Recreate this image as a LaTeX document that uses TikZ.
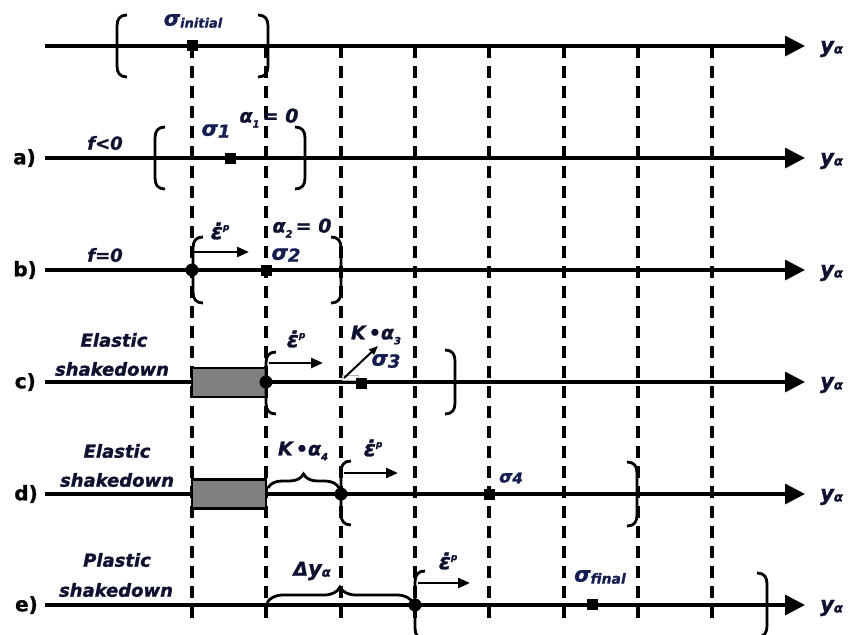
\documentclass[tikz,border=0pt]{standalone}
\usepackage{fontspec}
\setmainfont{DejaVu Sans}[BoldItalicFeatures={FakeBold=1.2},BoldFeatures={FakeBold=1.0}]
\usetikzlibrary{arrows.meta,decorations.pathreplacing}
\definecolor{lblc}{RGB}{14,18,48}
\definecolor{sigc}{RGB}{20,30,80}
\definecolor{boxgray}{RGB}{128,128,128}
\newcommand\labfont{\fontsize{18}{20}\selectfont\bfseries\itshape}
\newcommand\lowsub[1]{{\fontsize{10}{10}\selectfont\raisebox{-5pt}{#1}}}
\newcommand\epdot{{\fontsize{22}{22}\selectfont ε̇}\raisebox{9pt}{\fontsize{9}{9}\selectfont p}}
\newcommand\ya{{\fontsize{21}{21}\selectfont y}{\fontsize{13}{13}\selectfont\raisebox{-1pt}{α}}}
\newcommand\sig{{\fontsize{21}{21}\selectfont σ}}
\newcommand\lbrk[3]{\draw[crv] ({#1+10},{#2-#3}) .. controls ({#1+3},{#2-#3}) and (#1,{#2-#3+4}) .. (#1,{#2-#3+11}) -- (#1,{#2+#3-11}) .. controls (#1,{#2+#3-4}) and ({#1+3},{#2+#3}) .. ({#1+10},{#2+#3});}
\newcommand\rbrk[3]{\draw[crv] ({#1-10},{#2-#3}) .. controls ({#1-3},{#2-#3}) and (#1,{#2-#3+4}) .. (#1,{#2-#3+11}) -- (#1,{#2+#3-11}) .. controls (#1,{#2+#3-4}) and ({#1-3},{#2+#3}) .. ({#1-10},{#2+#3});}
\begin{document}
\begin{tikzpicture}[x=1pt,y=-1pt,
  yaxis/.style={line width=3.4pt,-{Triangle[length=20pt,width=20pt]}},
  guide/.style={line width=3.2pt,dash pattern=on 12pt off 8pt},
  lbl/.style={text=lblc,font=\labfont,inner sep=0pt},
  slbl/.style={lbl,text=sigc},
  rowtag/.style={text=black!90!lblc,font=\fontsize{20}{22}\selectfont\bfseries,inner sep=0pt,anchor=east},
  sq/.style={fill=black,minimum size=11pt,inner sep=0pt},
  fdot/.style={circle,fill=black,minimum size=13pt,inner sep=0pt},
  rate/.style={line width=2.6pt,-{Triangle[length=12pt,width=10pt]}},
  hold/.style={draw,line width=2.6pt,fill=boxgray},
  crv/.style={line width=2.8pt},
  brc/.style={line width=2.8pt,decorate,decoration={brace,amplitude=#1}}
]
\useasboundingbox (0,0) rectangle (848,634);
% dashed guides
\foreach \x/\n in {192/g1,266/g2,341/g3,415/g4,489/g5,564/g6,638/g7,712/g8}{
  \coordinate (\n t) at (\x,46);
  \coordinate (\n b) at (\x,622);
  \draw[guide] (\n t) -- (\n b);
}
% axes
\foreach \y/\n in {46/r0,158/ra,270/rb,382/rc,494/rd,605/re}{
  \coordinate (\n s) at (45,\y);
  \coordinate (\n e) at (805,\y);
  \draw[yaxis] (\n s) -- (\n e);
  \node[lbl,anchor=west] (\n y) at (820,{\y+3}) {\ya};
}
% row tags
\node[rowtag] (ta) at (36,158) {a)};
\node[rowtag] (tb) at (37,270) {b)};
\node[rowtag] (tc) at (36,382) {c)};
\node[rowtag] (td) at (38,494) {d)};
\node[rowtag] (te) at (38,605) {e)};
% initial
\lbrk{117}{46}{31}
\rbrk{268}{46}{31}
\node[sq] (s0) at (192,46) {};
\node[slbl] (s0l) at (193,21) {\sig{\fontsize{13}{13}\selectfont\raisebox{-2pt}{initial}}};
% a)
\node[lbl] (fa) at (105,143) {f<0};
\lbrk{155}{158}{31}
\rbrk{305}{158}{31}
\node[sq] (s1) at (230,158) {};
\node[slbl] (s1l) at (216,131) {\sig\raisebox{-2pt}{1}};
\node[lbl,font=\fontsize{19}{20}\selectfont\bfseries\itshape] (a1l) at (269,118) {α\lowsub{1}\,= 0};
% b)
\node[lbl] (fb) at (105,255) {f=0};
\lbrk{193}{270}{33}
\rbrk{341}{270}{33}
\node[fdot] (db) at (192,270) {};
\coordinate (eb0) at (194,252);
\coordinate (eb1) at (249,252);
\draw[rate] (eb0) -- (eb1);
\node[lbl] (ebl) at (220,231) {\epdot};
\node[sq] (s2) at (266,270) {};
\node[slbl] (s2l) at (286,255) {\sig\raisebox{-2pt}{2}};
\node[lbl,font=\fontsize{19}{20}\selectfont\bfseries\itshape] (a2l) at (302,228) {α\lowsub{2}\,= 0};
% c)
\node[lbl] (ec1) at (114,340) {Elastic};
\node[lbl] (ec2) at (112,369) {shakedown};
\node[hold,minimum width=74pt,minimum height=29pt,inner sep=0pt] (hc) at (229,382.5) {};
\lbrk{266}{383}{31}
\rbrk{455}{382}{32}
\node[fdot] (dc) at (266,382) {};
\coordinate (ec0) at (269,363);
\coordinate (ec1a) at (323,363);
\draw[rate] (ec0) -- (ec1a);
\node[lbl] (ecl) at (296,339) {\epdot};
\draw[gray!60,line width=1pt] (342,375) rectangle (358,380);
\coordinate (kc0) at (344,378);
\coordinate (kc1) at (378,346);
\draw[line width=2pt,-{Triangle[length=9pt,width=7pt]}] (kc0) -- (kc1);
\node[sq] (s3) at (361,383) {};
\node[lbl,font=\fontsize{19}{20}\selectfont\bfseries\itshape] (kcl) at (376,335) {K\,•α\lowsub{3}};
\node[slbl] (s3l) at (386,361) {\sig\raisebox{-2pt}{3}};
% d)
\node[lbl] (ed1) at (117,451) {Elastic};
\node[lbl] (ed2) at (117,480) {shakedown};
\node[hold,minimum width=74pt,minimum height=29pt,inner sep=0pt] (hd) at (229,494) {};
\coordinate (bd0) at (268,488);
\coordinate (bd1) at (339,488);
\draw[brc=14] (bd0) -- (bd1);
\node[lbl,font=\fontsize{19}{20}\selectfont\bfseries\itshape] (kdl) at (303,451) {K\,•α\lowsub{4}};
\lbrk{341}{493}{32}
\rbrk{637}{494}{32}
\node[fdot] (dd) at (341,494) {};
\coordinate (ed0) at (344,473);
\coordinate (ed1a) at (398,473);
\draw[rate] (ed0) -- (ed1a);
\node[lbl] (edl) at (373,448) {\epdot};
\node[sq] (s4) at (489,494) {};
\node[slbl,font=\fontsize{15}{15}\selectfont\bfseries\itshape] (s4l) at (511,478) {{\fontsize{17}{17}\selectfont σ}\raisebox{-1pt}{4}};
% e)
\node[lbl] (pe1) at (117,560) {Plastic};
\node[lbl] (pe2) at (116,590) {shakedown};
\coordinate (be0) at (267,603);
\coordinate (be1) at (413,603);
\draw[brc=16] (be0) -- (be1);
\node[lbl] (dyl) at (312,571) {{\fontsize{19}{19}\selectfont Δ}\ya};
\lbrk{415}{605}{34}
\rbrk{767}{605}{32}
\node[fdot] (de) at (415,605) {};
\coordinate (ee0) at (418,583);
\coordinate (ee1) at (470,583);
\draw[rate] (ee0) -- (ee1);
\node[lbl] (eel) at (448,561) {\epdot};
\node[sq] (s5) at (592,604) {};
\node[slbl] (s5l) at (600,577) {\sig{\fontsize{14}{14}\selectfont\raisebox{-2pt}{final}}};
\end{tikzpicture}
\end{document}
